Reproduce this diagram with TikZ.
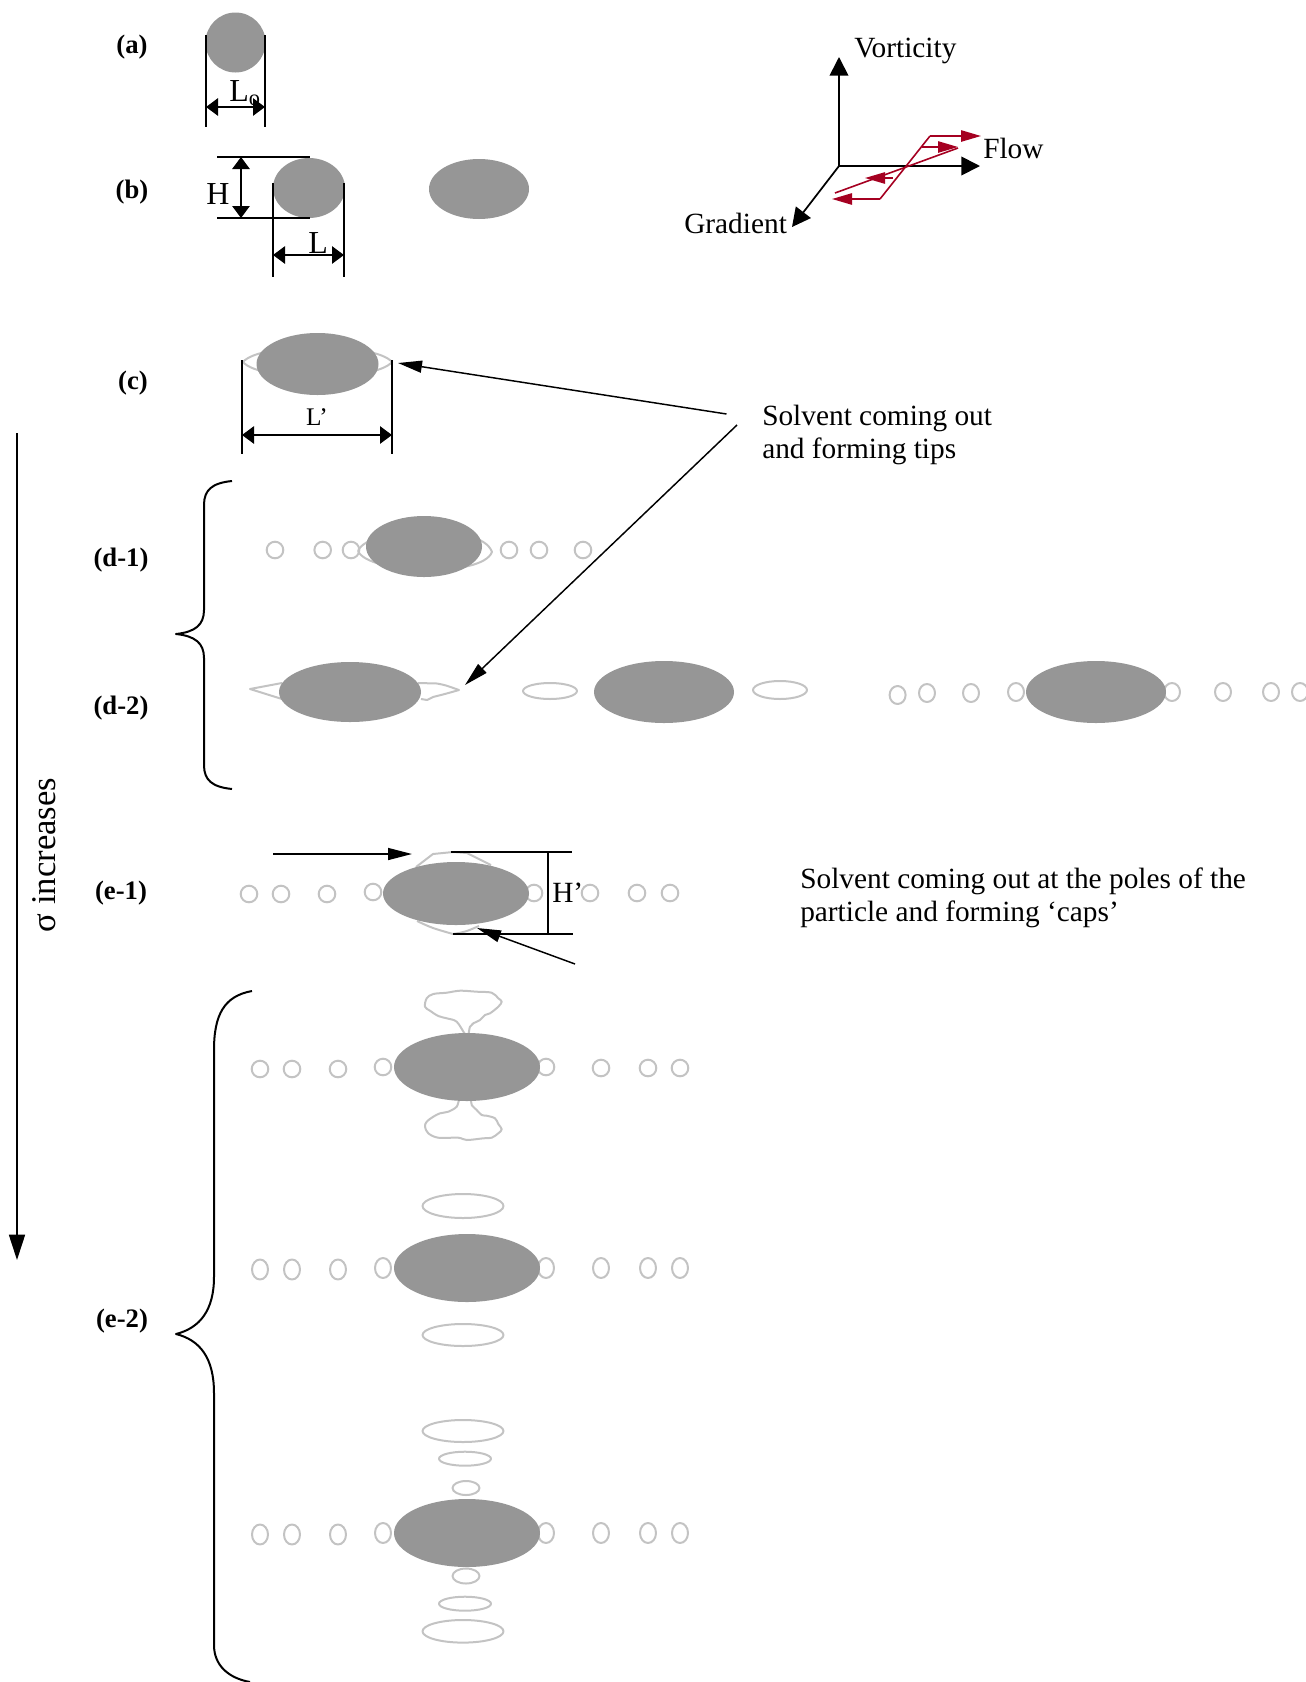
\documentclass[tikz,border=0pt]{standalone}
\usepackage{fontspec}
\setmainfont{Liberation Serif}
\usetikzlibrary{arrows.meta}
\definecolor{partgray}{RGB}{150,150,150}
\definecolor{solvgray}{RGB}{195,195,195}
\definecolor{shearred}{RGB}{165,0,33}

\begin{document}
\begin{tikzpicture}[x=0.75pt,y=-0.75pt,
  particle/.style={fill=partgray},
  solvent/.style={draw=solvgray, line width=1.5pt, line join=round},
  dimline/.style={line width=1.4pt},
  dimarrow/.style={line width=1.3pt, >={Triangle[length=9pt,width=13pt]}, <->},
  pointer/.style={line width=1.1pt, >={Triangle[length=18pt,width=9pt]}, ->},
  axis/.style={line width=1.3pt, >={Triangle[length=14pt,width=14pt]}, ->},
  shear/.style={draw=shearred, line width=1.2pt},
  sheararrow/.style={shear, >={Triangle[length=15pt,width=8.5pt]}, ->},
  bracket/.style={line width=1.5pt, line join=round},
  tag/.style={inner sep=0pt, font=\fontsize{20}{23}\selectfont\bfseries},
  bodytext/.style={inner sep=0pt, font=\fontsize{22}{25}\selectfont},
  dimtext/.style={inner sep=0pt, font=\fontsize{24}{27}\selectfont}
]
\useasboundingbox (0,0) rectangle (1306,1682);

% ---------- panel tags ----------
\node[tag] (ta) at (132,47) {(a)};
\node[tag] (tb) at (132,192) {(b)};
\node[tag] (tc) at (133,383) {(c)};
\node[tag] (td1) at (121,560) {(d-1)};
\node[tag] (td2) at (121,708) {(d-2)};
\node[tag] (te1) at (121,893) {(e-1)};
\node[tag] (te2) at (122,1321) {(e-2)};

% ---------- (a) undeformed drop ----------
\fill[particle] (235.5,42.5) circle[radius=30];
\draw[dimline] (206,35) -- (206,127);
\draw[dimline] (265,35) -- (265,127);
\draw[dimarrow] (206,107) -- (265,107);
\node[dimtext, anchor=base west] (lo) at (229,101) {L\textsubscript{o}};

% ---------- (b) deformed drops ----------
\fill[particle] (309,188) ellipse[x radius=36, y radius=30];
\fill[particle] (479,189) ellipse[x radius=50, y radius=30];
\draw[dimline] (217,157) -- (310,157);
\draw[dimline] (217,218) -- (310,218);
\draw[dimarrow] (241,157) -- (241,218);
\node[dimtext, anchor=base west] (hb) at (206,204) {H};
\draw[dimline] (273,183) -- (273,277);
\draw[dimline] (344,183) -- (344,277);
\draw[dimarrow] (273,255) -- (344,255);
\node[dimtext, anchor=base west] (lb) at (308,253) {L};

% ---------- shear axes ----------
\coordinate (orig) at (839,166);
\coordinate (vtip) at (839,57);
\coordinate (ftip) at (980,166);
\coordinate (gtip) at (792,227);
\draw[axis] (orig) -- (vtip);
\draw[axis] (orig) -- (ftip);
\draw[axis] (orig) -- (gtip);
\node[bodytext, anchor=base west] (vort) at (854,57) {Vorticity};
\node[bodytext, anchor=base west] (flow) at (983,158) {Flow};
\node[bodytext, anchor=base west] (grad) at (684,233) {Gradient};

% shear profile
\draw[shear] (930,136) -- (880,199);
\draw[shear] (835,193) -- (958,148);
\draw[sheararrow] (930,136) -- (981,136);
\draw[sheararrow] (922,147) -- (958,147);
\draw[sheararrow] (893,178) -- (865,178);
\draw[sheararrow] (880,199) -- (832,199);

% ---------- (c) tips ----------
\draw[solvent] (243,362) .. controls (260,342) and (375,342) .. (392,362)
               .. controls (375,382) and (260,382) .. (243,362);
\fill[particle] (317.5,364) ellipse[x radius=61, y radius=31];
\draw[dimline] (242,360) -- (242,454);
\draw[dimline] (392,360) -- (392,454);
\draw[dimarrow] (242,435) -- (392,435);
\node[inner sep=0pt, font=\fontsize{19}{22}\selectfont, anchor=base] (lc) at (317,425) {L’};

% annotation: tips
\node[bodytext, anchor=base west] (tips1) at (762,425) {Solvent coming out};
\node[bodytext, anchor=base west] (tips2) at (762,458) {and forming tips};
\coordinate (tipsA) at (726.5,414);
\coordinate (tipsB) at (737,425);
\coordinate (tipC) at (398,363);
\coordinate (tipD) at (465,685);
\draw[pointer] (tipsA) -- (tipC);
\draw[pointer] (tipsB) -- (tipD);

% ---------- sigma axis ----------
\coordinate (stop) at (17,433);
\coordinate (sbot) at (17,1260);
\draw[line width=1.3pt, -{Triangle[length=19pt,width=12pt]}] (stop) -- (sbot);
\node[inner sep=0pt, font=\fontsize{26}{29}\selectfont, rotate=90] (sigma) at (44,855) {σ increases};

% ---------- braces ----------
\draw[bracket] (232,481) .. controls (212,483) and (204,490) .. (204,505) -- (204,610)
  .. controls (204,625) and (195,632) .. (176,634)
  .. controls (195,636) and (204,643) .. (204,658) -- (204,765)
  .. controls (204,780) and (212,787) .. (232,789);
\draw[bracket] (252,991) .. controls (224,996) and (214,1015) .. (214,1050) -- (214,1277)
  .. controls (214,1310) and (200,1328) .. (176,1334)
  .. controls (200,1340) and (214,1358) .. (214,1393) -- (214,1645)
  .. controls (214,1665) and (228,1678) .. (250,1682);

% ---------- (d-1) ----------
\foreach \px in {275,322.7,351,509,539,583}
  \draw[solvent] (\px,550) circle[radius=8.3];
\draw[solvent] (358,551) .. controls (368,526) and (482,522) .. (492,552)
               .. controls (482,578) and (368,574) .. (358,551);
\fill[particle] (424,546.5) ellipse[x radius=58, y radius=30.5];

% ---------- (d-2) ----------
\draw[solvent] (282,683) -- (250,689) -- (282,699);
\draw[solvent] (418,683) -- (437,683.5) .. controls (445,685) .. (459,690)
               .. controls (445,694) .. (433,697) -- (427,700) -- (421,699);
\fill[particle] (350,692) ellipse[x radius=71, y radius=30];
\draw[solvent] (550,691) ellipse[x radius=27, y radius=8];
\fill[particle] (664,692) ellipse[x radius=70, y radius=31];
\draw[solvent] (780,690) ellipse[x radius=27, y radius=9];
\foreach \px/\py in {897.6/695,927/693,971/693,1016/692,1172/692,1223/692,1271/692,1300/692}
  \draw[solvent] (\px,\py) ellipse[x radius=8, y radius=9];
\fill[particle] (1096,692) ellipse[x radius=70, y radius=31];

% ---------- (e-1) ----------
\foreach \px/\py in {249/894,281/894,327/894,373/892,534/893,590/893,637/893,670/893}
  \draw[solvent] (\px,\py) circle[radius=8.3];
\draw[solvent] (416,867) -- (433,854) -- (453,852) -- (467,853) -- (491,865);
\draw[solvent] (417,921) .. controls (432,928) .. (453,934) .. controls (465,932) .. (479,926);
\fill[particle] (456,893.5) ellipse[x radius=73, y radius=31.5];
\coordinate (inA) at (273,854);
\coordinate (inB) at (412,854);
\draw[pointer] (inA) -- (inB);
\coordinate (capA) at (575,964);
\coordinate (capB) at (477,928);
\draw[pointer] (capA) -- (capB);
\draw[dimline] (451,852) -- (572,852);
\draw[dimline] (453,934) -- (573,934);
\draw[dimline] (548,852) -- (548,934);
\node[dimtext, font=\fontsize{22}{25}\selectfont, anchor=base west] (hp) at (552,902) {H’};
\node[bodytext, anchor=base west] (caps1) at (800,888) {Solvent coming out at the poles of the};
\node[bodytext, anchor=base west] (caps2) at (800,921) {particle and forming ‘caps’};

% ---------- (e-2) row 1: caps ----------
\foreach \px/\py in {260/1069,292/1069,338/1069,383/1067,546/1067,601/1068,648/1068,680/1068}
  \draw[solvent] (\px,\py) circle[radius=8.3];
\draw[solvent] plot[smooth cycle, tension=0.55] coordinates {
  (465,1034) (456.7,1021.7) (446.7,1018.3) (438.3,1016) (430,1010.7) (425,1006.7)
  (426.7,998.3) (433.3,994) (446.7,992.7) (460,990.7) (476.7,991.7) (491.7,992.7)
  (498.3,998.3) (501.7,1001.7) (498.3,1006.7) (490,1013.3) (485,1015) (480,1020)
  (473.3,1023.3) (470,1026.7) (468.3,1034)};
\draw[solvent] plot[smooth cycle, tension=0.55] coordinates {
  (460,1099) (456.7,1106.7) (448.3,1111.7) (440,1113.3) (433.3,1116.7) (426.7,1121.7)
  (425,1126.7) (428.3,1133.3) (438.3,1137.7) (458.3,1137.7) (466.7,1140) (483.3,1138.3)
  (491.7,1137.7) (498.3,1133.3) (501.7,1129.3) (498.3,1124) (495,1118.3) (486.7,1115.7)
  (481.7,1115) (476.7,1110) (471.7,1105) (470,1099)};
\fill[particle] (467,1067) ellipse[x radius=73, y radius=34];

% ---------- (e-2) row 2: detached caps ----------
\foreach \px/\py in {260/1269.5,292/1269.5,338/1269.5,383/1268,546/1268,601/1268,648/1268,680/1268}
  \draw[solvent] (\px,\py) ellipse[x radius=8, y radius=10];
\draw[solvent] (463,1206) ellipse[x radius=40.5, y radius=12];
\draw[solvent] (463,1335) ellipse[x radius=40.5, y radius=11];
\fill[particle] (467,1268) ellipse[x radius=73, y radius=34];

% ---------- (e-2) row 3: cap trains ----------
\foreach \px/\py in {260/1534.5,292/1534.5,338/1534.5,383/1533,546/1533,601/1533,648/1533,680/1533}
  \draw[solvent] (\px,\py) ellipse[x radius=8, y radius=10];
\draw[solvent] (463,1431) ellipse[x radius=40.5, y radius=11];
\draw[solvent] (465,1458.7) ellipse[x radius=26, y radius=7];
\draw[solvent] (466,1488) ellipse[x radius=13.5, y radius=7];
\draw[solvent] (466,1576) ellipse[x radius=13.5, y radius=7.5];
\draw[solvent] (465,1603.7) ellipse[x radius=26, y radius=7];
\draw[solvent] (463,1631.3) ellipse[x radius=40.5, y radius=11.3];
\fill[particle] (467,1533) ellipse[x radius=73, y radius=34];
\end{tikzpicture}
\end{document}
